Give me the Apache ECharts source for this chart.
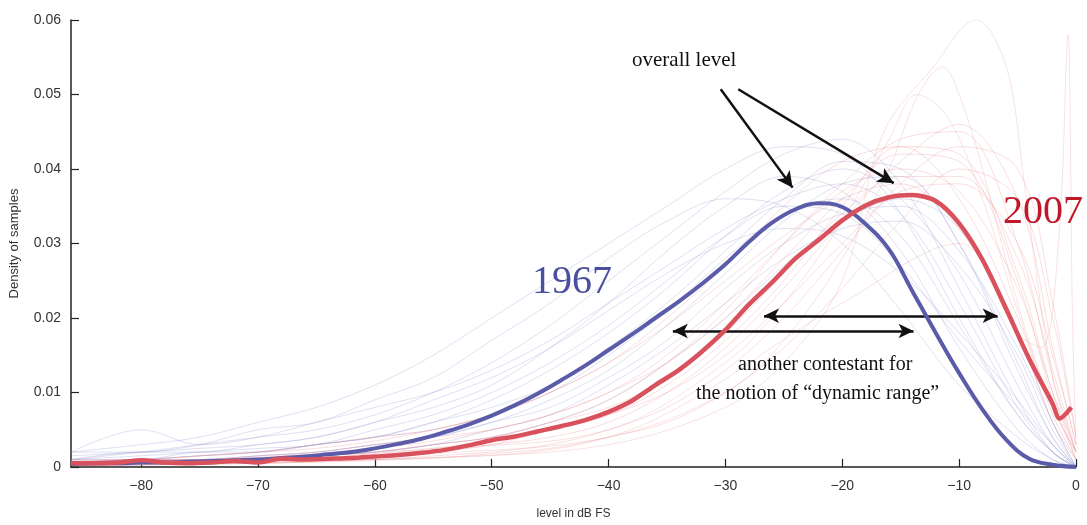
<!DOCTYPE html>
<html><head><meta charset="utf-8">
<script src="https://cdn.jsdelivr.net/npm/echarts@6/dist/echarts.min.js"></script>
<style>html,body{margin:0;padding:0;background:#fff}#c{width:1087px;height:525px}</style>
</head><body><div id="c"></div>
<script>
// ---- data ----
const xTicks = [-80,-70,-60,-50,-40,-30,-20,-10,0];
const yTicks = [0,0.01,0.02,0.03,0.04,0.05,0.06];

const meanX1967 = [-86,-84,-82,-80,-78,-76,-74,-72,-70,-68,-66,-64,-62,-60,-58,-56,-54,-52,-50,-48,-46,-44,-42,-40,-38,-36,-34,-32,-30,-28,-26,-24,-22,-20,-18,-16,-14,-12,-10,-8,-6,-4,-2,0];
const mean1967 = [0.0004,0.0005,0.0005,0.0006,0.0006,0.0007,0.0008,0.0009,0.0010,0.0012,0.0014,0.0017,0.0020,0.0025,0.0031,0.0038,0.0047,0.0057,0.0069,0.0083,0.0099,0.0117,0.0136,0.0157,0.0178,0.0200,0.0222,0.0246,0.0272,0.0302,0.0328,0.0346,0.0354,0.0349,0.0326,0.0292,0.0236,0.0180,0.0126,0.0077,0.0037,0.0011,0.0003,0.0000];

const meanX2007 = [-86,-84,-82,-80,-78,-76,-74,-72,-70,-68,-66,-64,-62,-60,-58,-56,-54,-52,-50,-48,-46,-44,-42,-40,-38,-36,-34,-32,-30,-28,-26,-24,-22,-20,-18,-16,-14,-12,-10,-8,-6,-4,-2,-1.4,-0.4];
const mean2007 = [0.0005,0.0005,0.0006,0.0009,0.0006,0.0005,0.0006,0.0008,0.0006,0.0011,0.0010,0.0011,0.0012,0.0014,0.0016,0.0019,0.0023,0.0029,0.0036,0.0041,0.0048,0.0055,0.0063,0.0074,0.0089,0.0110,0.0130,0.0155,0.0184,0.0218,0.0248,0.0280,0.0305,0.0331,0.0351,0.0362,0.0365,0.0357,0.0327,0.0278,0.0213,0.0145,0.0085,0.0065,0.0080];

// individual songs (faint), sampled on a coarse grid
const songX = [-86,-80,-75,-70,-65,-60,-55,-50,-45,-40,-35,-30,-25,-20,-15,-10,-5,-2,0];
const songs1967 = [
  [0.002,0.003,0.004,0.006,0.008,0.011,0.015,0.020,0.025,0.030,0.035,0.040,0.043,0.042,0.034,0.020,0.007,0.002,0],
  [0.001,0.002,0.003,0.004,0.005,0.007,0.010,0.014,0.019,0.025,0.031,0.037,0.042,0.044,0.038,0.024,0.009,0.002,0],
  [0.001,0.001,0.002,0.002,0.003,0.004,0.006,0.009,0.013,0.018,0.024,0.031,0.037,0.040,0.036,0.026,0.011,0.003,0],
  [0.0005,0.001,0.001,0.0015,0.002,0.003,0.004,0.006,0.009,0.013,0.019,0.026,0.033,0.038,0.039,0.030,0.014,0.004,0],
  [0.0003,0.0005,0.001,0.001,0.0015,0.002,0.003,0.004,0.006,0.009,0.014,0.020,0.027,0.033,0.036,0.032,0.018,0.006,0],
  [0.002,0.002,0.003,0.005,0.006,0.009,0.012,0.017,0.022,0.028,0.033,0.036,0.035,0.030,0.021,0.011,0.004,0.001,0],
  [0.001,0.002,0.002,0.003,0.004,0.006,0.008,0.011,0.016,0.022,0.029,0.035,0.039,0.037,0.029,0.016,0.005,0.001,0],
  [0.0005,0.001,0.0015,0.002,0.003,0.004,0.005,0.007,0.010,0.015,0.021,0.028,0.034,0.036,0.031,0.019,0.007,0.002,0],
  [0.0003,0.0005,0.001,0.001,0.0015,0.002,0.003,0.005,0.007,0.011,0.016,0.022,0.028,0.032,0.033,0.027,0.015,0.005,0],
  [0.001,0.0015,0.002,0.0025,0.003,0.005,0.007,0.010,0.014,0.019,0.025,0.031,0.035,0.034,0.027,0.017,0.008,0.003,0],
  [0.002,0.005,0.003,0.004,0.006,0.008,0.010,0.013,0.017,0.022,0.027,0.032,0.036,0.038,0.034,0.022,0.008,0.002,0],
  [0.0005,0.001,0.001,0.0015,0.002,0.003,0.004,0.006,0.008,0.012,0.017,0.024,0.030,0.034,0.035,0.029,0.016,0.006,0],
  [0.0015,0.002,0.0025,0.003,0.004,0.006,0.009,0.012,0.016,0.021,0.026,0.030,0.032,0.031,0.026,0.018,0.009,0.003,0],
  [0.0008,0.001,0.0015,0.002,0.003,0.004,0.006,0.008,0.011,0.016,0.022,0.029,0.036,0.041,0.040,0.030,0.013,0.004,0]
];
const songs2007 = [
  [0.0005,0.0005,0.001,0.001,0.0015,0.002,0.003,0.004,0.006,0.009,0.014,0.021,0.030,0.038,0.044,0.045,0.030,0.012,0.002],
  [0.0003,0.0005,0.0005,0.001,0.001,0.0015,0.002,0.003,0.004,0.006,0.010,0.016,0.024,0.033,0.041,0.046,0.036,0.016,0.003],
  [0.001,0.001,0.0015,0.002,0.003,0.004,0.005,0.007,0.010,0.014,0.020,0.027,0.035,0.041,0.043,0.036,0.020,0.007,0.001],
  [0.0005,0.001,0.001,0.0015,0.002,0.003,0.004,0.005,0.007,0.010,0.015,0.022,0.030,0.037,0.040,0.037,0.024,0.010,0.002],
  [0.0002,0.0003,0.0005,0.0005,0.001,0.001,0.0015,0.002,0.003,0.005,0.008,0.013,0.020,0.029,0.038,0.043,0.040,0.022,0.004],
  [0.0005,0.0008,0.001,0.001,0.0015,0.002,0.003,0.004,0.006,0.008,0.012,0.018,0.026,0.034,0.039,0.039,0.028,0.013,0.002],
  [0.0003,0.0005,0.0008,0.001,0.001,0.0015,0.002,0.003,0.005,0.007,0.011,0.017,0.025,0.035,0.043,0.042,0.026,0.010,0.001],
  [0.0002,0.0003,0.0005,0.0005,0.0008,0.001,0.0012,0.0018,0.0025,0.004,0.006,0.010,0.016,0.024,0.033,0.040,0.036,0.020,0.004],
  [0.0008,0.001,0.0015,0.002,0.0025,0.0035,0.005,0.007,0.010,0.014,0.019,0.025,0.031,0.036,0.038,0.032,0.018,0.006,0.001],
  [0.0004,0.0006,0.0008,0.001,0.0012,0.0018,0.0025,0.0035,0.005,0.007,0.010,0.015,0.022,0.030,0.037,0.038,0.030,0.015,0.003],
  [0.0006,0.0008,0.001,0.0013,0.0018,0.0025,0.0035,0.005,0.007,0.010,0.014,0.020,0.028,0.036,0.042,0.041,0.025,0.009,0.001]
];
const outlierX2007 = [
  [-86,-70,-55,-40,-30,-25,-20,-16.5,-12.2,-8.5,-7.1,-5.6,-4.5,-2,0],
  [-86,-70,-55,-40,-30,-25,-20,-16,-13.5,-11.4,-10,-8,-5,-2,0],
  [-86,-70,-55,-40,-30,-25,-20,-16,-13.6,-11,-8,-5,-2,0],
  [-86,-60,-40,-20,-10,-5,-3,-1.5,-0.7,-0.3,0]
];
const outlierY2007 = [
  [0.0002,0.0005,0.0012,0.003,0.008,0.014,0.025,0.0448,0.0537,0.060,0.058,0.0515,0.039,0.012,0.002],
  [0.0003,0.0008,0.0018,0.004,0.010,0.017,0.028,0.040,0.050,0.0537,0.050,0.040,0.022,0.008,0.002],
  [0.0005,0.0012,0.0025,0.005,0.014,0.022,0.033,0.044,0.050,0.047,0.036,0.021,0.008,0.002],
  [0.0002,0.001,0.004,0.022,0.030,0.018,0.016,0.030,0.058,0.020,0.003]
];

// ---- chart ----
const pair = (xs, ys) => xs.map((x, i) => [x, ys[i]]);
const faint = (xs, ys, color) => ({
  type: 'line', data: pair(xs, ys), smooth: 0.35, symbol: 'none', silent: true,
  lineStyle: { color, width: 1 }, z: 1
});
const series = [];
songs1967.forEach(s => series.push(faint(songX, s, 'rgba(140,145,210,0.28)')));
songs2007.forEach(s => series.push(faint(songX, s, 'rgba(235,135,145,0.28)')));
outlierX2007.forEach((xs, i) => series.push(faint(xs, outlierY2007[i], 'rgba(235,150,155,0.28)')));

series.push({
  type: 'line', name: '1967', data: pair(meanX1967, mean1967), smooth: 0.4, symbol: 'none',
  lineStyle: { color: '#5b5ca9', width: 4 }, z: 5
});
series.push({
  type: 'line', name: '2007', data: pair(meanX2007, mean2007), smooth: 0.3, symbol: 'none',
  lineStyle: { color: '#d9515c', width: 4.5 }, z: 6
});
// annotation arrows
series.push({
  type: 'line', data: [], silent: true, z: 10,
  markLine: {
    silent: true, symbol: ['none', 'arrow'], symbolSize: [12, 16],
    label: { show: false }, lineStyle: { color: '#111', width: 2.5, type: 'solid' },
    data: [
      [{ coord: [-30.4, 0.0507] }, { coord: [-24.25, 0.0375] }],
      [{ coord: [-28.9, 0.0507] }, { coord: [-15.6, 0.0381] }]
    ]
  }
});
series.push({
  type: 'line', data: [], silent: true, z: 10,
  markLine: {
    silent: true, symbol: ['arrow', 'arrow'], symbolSize: [11, 15],
    label: { show: false }, lineStyle: { color: '#111', width: 2.5, type: 'solid' },
    data: [
      [{ coord: [-26.7, 0.0203] }, { coord: [-6.7, 0.0203] }],
      [{ coord: [-34.5, 0.01826] }, { coord: [-13.9, 0.01826] }]
    ]
  }
});

const chart = echarts.init(document.getElementById('c'), null, { renderer: 'canvas' });
chart.setOption({
  animation: false,
  backgroundColor: '#fff',
  grid: { left: 68, right: 11, top: 20, bottom: 58, containLabel: false },
  xAxis: {
    type: 'value', min: -86, max: 0,
    name: 'level in dB FS', nameLocation: 'middle', nameGap: 41,
    nameTextStyle: { fontFamily: 'Liberation Sans', fontSize: 12, color: '#333' },
    axisLine: { onZero: false, lineStyle: { color: '#222', width: 1.5 } },
    axisTick: { inside: true, length: 8, customValues: xTicks, lineStyle: { color: '#222', width: 1.2 } },
    axisLabel: { customValues: xTicks, margin: 12, fontFamily: 'Liberation Sans', fontSize: 14, color: '#333',
      formatter: v => (v < 0 ? '\u2212' + Math.abs(v) : String(v)) },
    splitLine: { show: false }
  },
  yAxis: {
    type: 'value', min: 0, max: 0.06, interval: 0.01, position: 'left',
    name: 'Density of samples', nameLocation: 'middle', nameGap: 50, nameRotate: 90,
    nameTextStyle: { fontFamily: 'Liberation Sans', fontSize: 13, color: '#333' },
    axisLine: { show: true, onZero: false, lineStyle: { color: '#222', width: 1.5 } },
    axisTick: { show: true, inside: true, length: 8, lineStyle: { color: '#222', width: 1.2 } },
    axisLabel: { margin: 10, fontFamily: 'Liberation Sans', fontSize: 14, color: '#333',
      formatter: v => (v === 0 ? '0' : v.toFixed(2)) },
    splitLine: { show: false }
  },
  graphic: [
    { type: 'text', left: 632, top: 50, z: 20, style: { text: 'overall level', font: '21px "Liberation Serif"', fill: '#111' } },
    { type: 'text', left: 532, top: 262, z: 20, style: { text: '1967', font: '40px "Liberation Serif"', fill: '#4a4e9e' } },
    { type: 'text', left: 1003, top: 192, z: 20, style: { text: '2007', font: '40px "Liberation Serif"', fill: '#c01828' } },
    { type: 'text', left: 738, top: 355, z: 20, style: { text: 'another contestant for', font: '20px "Liberation Serif"', fill: '#111' } },
    { type: 'text', left: 696, top: 384, z: 20, style: { text: 'the notion of \u201cdynamic range\u201d', font: '20px "Liberation Serif"', fill: '#111' } }
  ],
  series
});
</script></body></html>
